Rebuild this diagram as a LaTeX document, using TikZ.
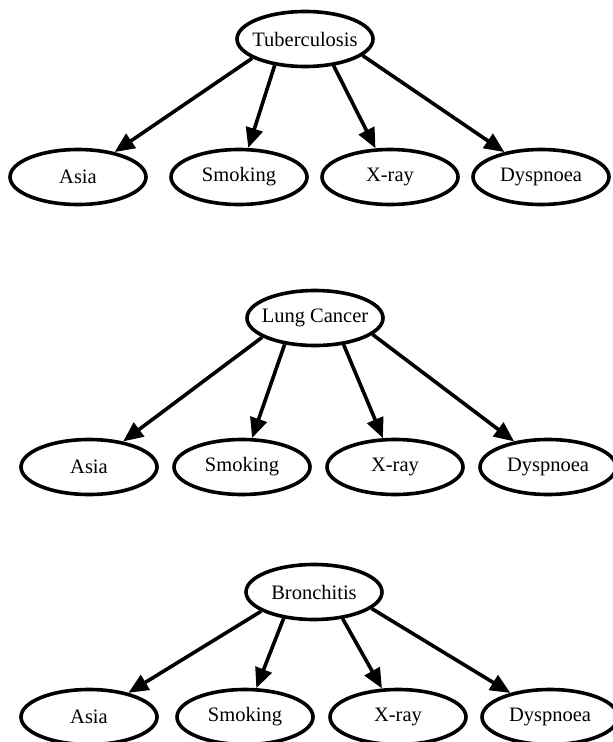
\documentclass[tikz,border=0pt]{standalone}
\usepackage{fontspec}
\setmainfont{Liberation Serif}
\usetikzlibrary{shapes.geometric,arrows.meta}
\begin{document}
\begin{tikzpicture}[x=1pt,y=-1pt,
  var/.style={ellipse,draw,line width=3.6pt,minimum width=136pt,minimum height=55pt,
    inner xsep=-8pt,inner ysep=0pt,font=\fontsize{20.5}{24}\selectfont},
  link/.style={line width=3.6pt,-{Triangle[length=20pt,width=17pt]}}]
\useasboundingbox[fill=white] (0,0) rectangle (613,742);

% Tuberculosis network
\node[var] (tb) at (305,39) {Tuberculosis};
\node[var] (tbA) at (78,177) {Asia};
\node[var] (tbS) at (239,177) {Smoking};
\node[var] (tbX) at (390,177) {X-ray};
\node[var] (tbD) at (541,177) {Dyspnoea};
\draw[link] (tb.200) -- (tbA);
\draw[link] (tb.221) -- (tbS);
\draw[link] (tb.317) -- (tbX);
\draw[link] (tb.344) -- (tbD);

% Lung cancer network
\node[var] (lc) at (315,318) {Lung Cancer};
\node[var] (lcA) at (89,467) {Asia};
\node[var] (lcS) at (242,467) {Smoking};
\node[var] (lcX) at (395,467) {X-ray};
\node[var] (lcD) at (548,467) {Dyspnoea};
\draw[link] (lc.200) -- (lcA);
\draw[link] (lc.221) -- (lcS);
\draw[link] (lc.317) -- (lcX);
\draw[link] (lc.344) -- (lcD);

% Bronchitis network
\node[var] (br) at (314,592) {Bronchitis};
\node[var] (brA) at (89,717) {Asia};
\node[var] (brS) at (245,717) {Smoking};
\node[var] (brX) at (398,717) {X-ray};
\node[var] (brD) at (550,717) {Dyspnoea};
\draw[link] (br.200) -- (brA);
\draw[link] (br.221) -- (brS);
\draw[link] (br.317) -- (brX);
\draw[link] (br.344) -- (brD);
\end{tikzpicture}
\end{document}
